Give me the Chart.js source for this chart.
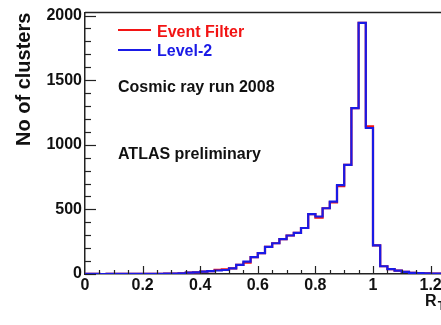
<!DOCTYPE html>
<html>
<head>
<meta charset="utf-8">
<script src="https://cdn.jsdelivr.net/npm/chart.js@4.4.1/dist/chart.umd.min.js"></script>
<style>
  html, body { margin: 0; padding: 0; background: #fff; overflow: hidden; }
  #wrap { position: relative; width: 460px; height: 325px; }
</style>
</head>
<body>
<div id="wrap"><canvas id="chart"></canvas></div>
<script>
// bin edges of R_T (0.025 wide bins)
const binEdges = [
  0, 0.025, 0.05, 0.075, 0.1, 0.125, 0.15, 0.175, 0.2, 0.225,
  0.25, 0.275, 0.3, 0.325, 0.35, 0.375, 0.4, 0.425, 0.45, 0.475,
  0.5, 0.525, 0.55, 0.575, 0.6, 0.625, 0.65, 0.675, 0.7, 0.725,
  0.75, 0.775, 0.8, 0.825, 0.85, 0.875, 0.9, 0.925, 0.95, 0.975,
  1, 1.025, 1.05, 1.075, 1.1, 1.125, 1.15, 1.175, 1.2, 1.225, 1.25
];

// counts per bin
const level2 = [
  1, 1, 0, 1, 1, 1, 1, 2, 1, 2,
  2, 3, 3, 5, 10, 13, 18, 22, 27, 31,
  44, 70, 96, 130, 162, 210, 238, 270, 298, 318,
  356, 464, 445, 509, 560, 688, 845, 1284, 1943, 1130,
  222, 60, 38, 26, 16, 9, 6, 5, 4, 4
];
const eventFilter = [
  1, 1, 0, 1, 1, 1, 1, 2, 1, 2,
  2, 3, 3, 5, 10, 13, 18, 22, 32, 36,
  44, 70, 88, 130, 162, 210, 238, 270, 298, 318,
  356, 464, 437, 509, 554, 680, 845, 1284, 1943, 1142,
  222, 60, 38, 26, 16, 9, 6, 5, 4, 4
];

const xTickValues = [0, 0.2, 0.4, 0.6, 0.8, 1, 1.2];
const yTickValues = [0, 500, 1000, 1500, 2000];

const FONT = '"Liberation Sans", Arial, Helvetica, sans-serif';

// histogram -> step points (left edge carries the bin value)
function toSteps(counts) {
  const pts = counts.map((c, i) => ({ x: binEdges[i], y: c }));
  pts.push({ x: binEdges[counts.length], y: counts[counts.length - 1] });
  return pts;
}

const decorations = {
  id: 'decorations',
  afterDraw(chart) {
    const { ctx, chartArea: a, scales: { x, y } } = chart;
    ctx.save();
    ctx.strokeStyle = '#222';
    ctx.lineWidth = 1.5;

    // top frame line
    ctx.beginPath();
    ctx.moveTo(a.left, a.top);
    ctx.lineTo(a.right, a.top);
    ctx.stroke();

    // inward ticks on y
    ctx.lineWidth = 1.2;
    for (let v = 0; v <= 2000; v += 100) {
      const py = Math.round(y.getPixelForValue(v)) + 0.5;
      const len = v % 500 === 0 ? 11 : 6;
      ctx.beginPath();
      ctx.moveTo(a.left, py);
      ctx.lineTo(a.left + len, py);
      ctx.stroke();
    }
    // inward ticks on x
    for (let i = 1; i <= 25; i++) {
      const px = Math.round(x.getPixelForValue(i * 0.05)) + 0.5;
      const len = i % 4 === 0 ? 8 : 4;
      ctx.beginPath();
      ctx.moveTo(px, a.bottom);
      ctx.lineTo(px, a.bottom - len);
      ctx.stroke();
    }

    // legend
    ctx.lineWidth = 2;
    ctx.strokeStyle = '#f21414';
    ctx.beginPath(); ctx.moveTo(118, 30); ctx.lineTo(151, 30); ctx.stroke();
    ctx.strokeStyle = '#1a1ae6';
    ctx.beginPath(); ctx.moveTo(118, 50); ctx.lineTo(151, 50); ctx.stroke();

    ctx.font = 'bold 16px ' + FONT;
    ctx.textAlign = 'left';
    ctx.textBaseline = 'alphabetic';
    ctx.fillStyle = '#f21414';
    ctx.fillText('Event Filter', 157, 37);
    ctx.fillStyle = '#1a1ae6';
    ctx.fillText('Level-2', 157, 56);

    ctx.fillStyle = '#111';
    ctx.fillText('Cosmic ray run 2008', 118, 92);
    ctx.fillText('ATLAS preliminary', 118, 159);

    // x axis title R_T, right aligned to the axis end
    ctx.font = 'bold 16px ' + FONT;
    const rw = ctx.measureText('R').width;
    ctx.font = 'bold 12px ' + FONT;
    const tw = ctx.measureText('T').width;
    const startX = a.right - rw - tw - 1;
    ctx.font = 'bold 16px ' + FONT;
    ctx.fillText('R', startX, 306);
    ctx.font = 'bold 12px ' + FONT;
    ctx.fillText('T', startX + rw + 1, 310);

    ctx.restore();
  }
};

new Chart(document.getElementById('chart'), {
  type: 'line',
  data: {
    datasets: [
      {
        label: 'Level-2',
        data: toSteps(level2),
        borderColor: '#1a1ae6',
        borderWidth: 2.2,
        stepped: true,
        pointRadius: 0,
        order: 0
      },
      {
        label: 'Event Filter',
        data: toSteps(eventFilter),
        borderColor: '#f21414',
        borderWidth: 2.2,
        stepped: true,
        pointRadius: 0,
        order: 1
      }
    ]
  },
  options: {
    responsive: true,
    maintainAspectRatio: false,
    animation: false,
    layout: { padding: { left: 0, top: 12, right: 15, bottom: 0 } },
    plugins: {
      legend: { display: false },
      tooltip: { enabled: false }
    },
    scales: {
      x: {
        type: 'linear',
        min: 0,
        max: 1.25,
        grid: { display: false, drawTicks: false },
        border: { display: true, color: '#222', width: 1.5 },
        ticks: {
          padding: 2,
          color: '#111',
          font: { family: FONT, size: 16, weight: 'bold' },
          maxRotation: 0,
          autoSkip: false,
          callback: (v) => String(parseFloat(Number(v).toFixed(2)))
        },
        afterBuildTicks: (s) => { s.ticks = xTickValues.map(v => ({ value: v })); },
        afterFit: (s) => { s.height = 51; }
      },
      y: {
        min: 0,
        max: 2023,
        grid: { display: false, drawTicks: false },
        border: { display: true, color: '#222', width: 1.5 },
        ticks: {
          padding: 3,
          color: '#111',
          font: { family: FONT, size: 16, weight: 'bold' },
          autoSkip: false,
          callback: (v) => String(v)
        },
        afterBuildTicks: (s) => { s.ticks = yTickValues.map(v => ({ value: v })); },
        afterFit: (s) => { s.width = 85; },
        title: {
          display: true,
          text: 'No of clusters',
          align: 'end',
          color: '#111',
          font: { family: FONT, size: 20, weight: 'bold' },
          padding: { top: 12, bottom: 0 }
        }
      }
    }
  },
  plugins: [decorations]
});
</script>
</body>
</html>
